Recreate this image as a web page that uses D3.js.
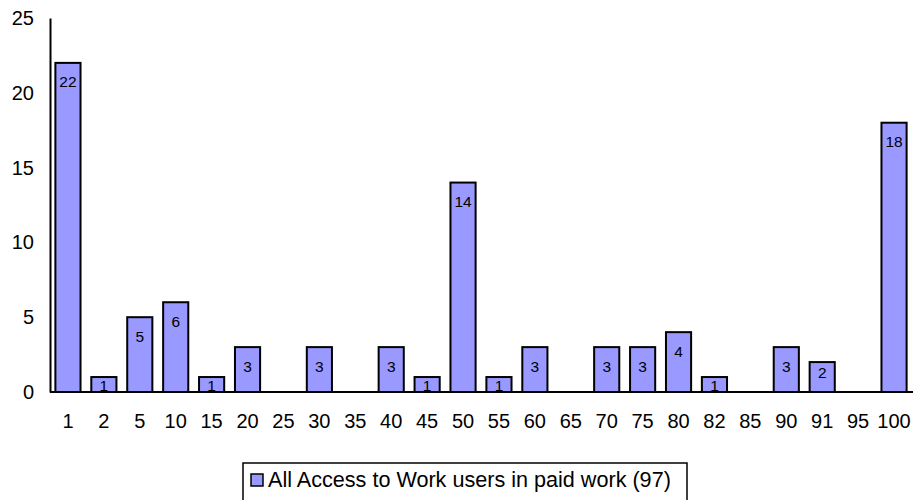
<!DOCTYPE html>
<html>
<head>
<meta charset="utf-8">
<script src="https://cdn.jsdelivr.net/npm/d3@7"></script>
<style>
  html, body { margin: 0; padding: 0; background: #fff; }
  svg { display: block; font-family: "Liberation Sans", Arial, sans-serif; }
</style>
</head>
<body>
<svg id="chart" width="913" height="500"></svg>
<script>
// Percentage of working time bands and number of users in each
const categories = ["1","2","5","10","15","20","25","30","35","40","45","50","55","60","65","70","75","80","82","85","90","91","95","100"];
const users = [22,1,5,6,1,3,0,3,0,3,1,14,1,3,0,3,3,4,1,0,3,2,0,18];
const yTicks = [0,5,10,15,20,25];
const seriesName = "All Access to Work users in paid work (97)";

const svg = d3.select("#chart");
const plot = { left: 50, right: 912, top: 18, bottom: 392 };

const x = d3.scaleBand().domain(categories).range([plot.left, plot.right]).paddingInner(0.3).paddingOuter(0.15);
const y = d3.scaleLinear().domain([0, 25]).range([plot.bottom, plot.top]);

const data = categories.map((c, i) => ({ cat: c, v: users[i] }));

// Bars
svg.append("g").selectAll("rect")
  .data(data.filter(d => d.v > 0))
  .join("rect")
  .attr("x", d => x(d.cat))
  .attr("y", d => y(d.v))
  .attr("width", x.bandwidth())
  .attr("height", d => y(0) - y(d.v))
  .attr("fill", "#9999ff")
  .attr("stroke", "#000")
  .attr("stroke-width", 2);

// Value labels inside the bar ends
svg.append("g").selectAll("text")
  .data(data.filter(d => d.v > 0))
  .join("text")
  .attr("x", d => x(d.cat) + x.bandwidth() / 2)
  .attr("y", d => {
    const h = y(0) - y(d.v);
    const off = h < 40 ? Math.max(8, h * 0.34) : 19;
    return y(d.v) + off;
  })
  .attr("text-anchor", "middle")
  .attr("dominant-baseline", "central")
  .attr("font-size", 15.5)
  .attr("fill", "#000")
  .text(d => d.v);

// Y axis
const yAxis = svg.append("g")
  .attr("transform", `translate(${plot.left},0)`)
  .call(d3.axisLeft(y).tickValues(yTicks).tickSize(0).tickPadding(16));
yAxis.select(".domain").attr("stroke", "#000").attr("stroke-width", 2);
yAxis.selectAll("text").attr("font-size", 20).attr("fill", "#000")
  .attr("font-family", "Liberation Sans, Arial, sans-serif");

// X axis
const xAxis = svg.append("g")
  .attr("transform", `translate(0,${plot.bottom})`)
  .call(d3.axisBottom(x).tickSize(0).tickPadding(22));
xAxis.select(".domain").attr("d", `M${plot.left},0H913`).attr("stroke", "#000").attr("stroke-width", 2);
xAxis.selectAll("text").attr("font-size", 20).attr("fill", "#000")
  .attr("font-family", "Liberation Sans, Arial, sans-serif");

// Legend
const legend = svg.append("g");
legend.append("rect")
  .attr("x", 243).attr("y", 463).attr("width", 444).attr("height", 60)
  .attr("fill", "#fff").attr("stroke", "#000").attr("stroke-width", 1.5);
legend.append("rect")
  .attr("x", 251).attr("y", 474).attr("width", 12).attr("height", 12)
  .attr("fill", "#9999ff").attr("stroke", "#000").attr("stroke-width", 1.5);
legend.append("text")
  .attr("x", 268).attr("y", 487)
  .attr("font-size", 21.6).attr("fill", "#000")
  .text(seriesName);
</script>
</body>
</html>
